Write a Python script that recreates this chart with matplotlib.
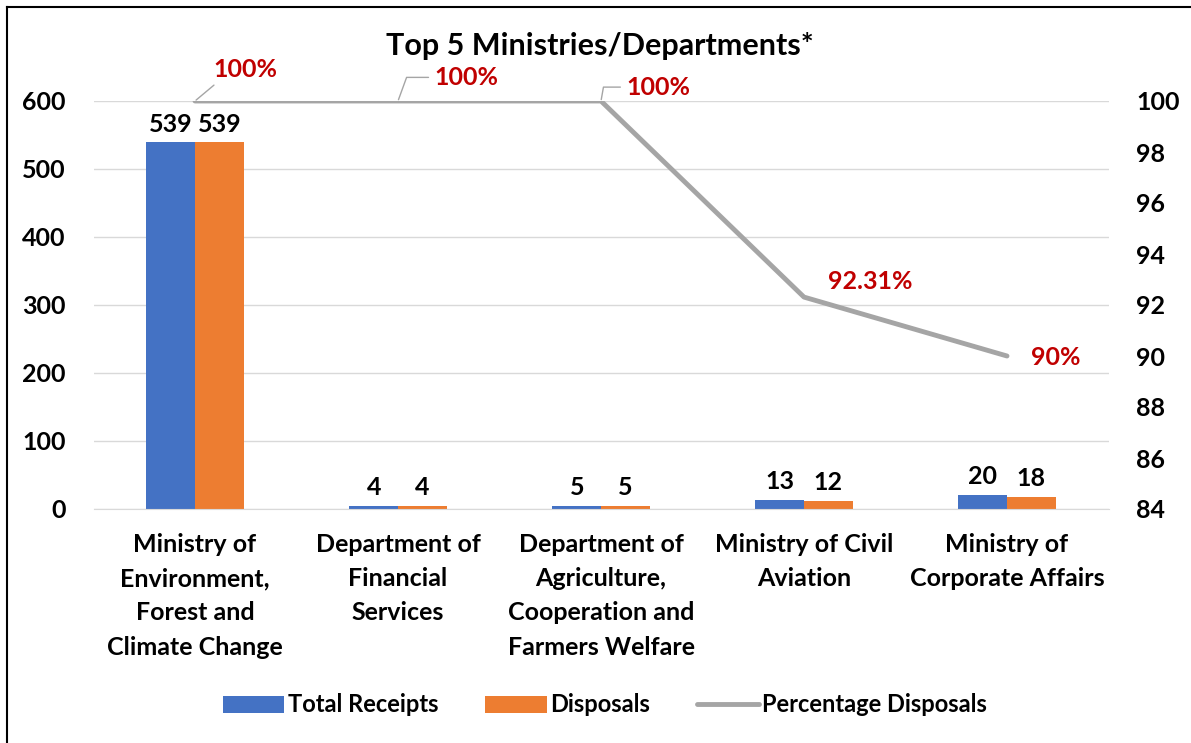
import matplotlib
matplotlib.use('Agg')
import numpy as np
from matplotlib import pyplot as plt
from matplotlib.lines import Line2D

plt.rcParams['font.family'] = ['Lato', 'DejaVu Sans']
plt.rcParams['font.weight'] = 'bold'

categories = ['Ministry of\nEnvironment,\nForest and\nClimate Change',
              'Department of\nFinancial\nServices',
              'Department of\nAgriculture,\nCooperation and\nFarmers Welfare',
              'Ministry of Civil\nAviation',
              'Ministry of\nCorporate Affairs']
receipts = [539, 4, 5, 13, 20]
disposals = [539, 4, 5, 12, 18]
pct = [100, 100, 100, 92.31, 90]
pct_labels = ['100%', '100%', '100%', '92.31%', '90%']

blue = '#4472C4'
orange = '#ED7D31'
gray = '#A5A5A5'
red = '#C00000'
fs = 18

fig = plt.figure(figsize=(11.91, 7.43), dpi=100)
ax = fig.add_axes([93.5 / 1191, 1 - 509 / 743, 1015 / 1191, 408 / 743])
ax2 = ax.twinx()

x = np.arange(len(categories))
w = 0.239
b1 = ax.bar(x - w / 2, receipts, w, color=blue, label='Total Receipts', zorder=2)
b2 = ax.bar(x + w / 2, disposals, w, color=orange, label='Disposals', zorder=2)
ax.bar_label(b1, padding=5, fontsize=fs, fontweight='bold')
ax.bar_label(b2, padding=5, fontsize=fs, fontweight='bold')

ax.set_xlim(-0.5, 4.5)
ax.set_ylim(0, 600)
ax.set_yticks(range(0, 601, 100))
ax.grid(axis='y', color='#D9D9D9', lw=1, zorder=0)
ax.set_axisbelow(True)
ax.set_xticks(x)
ax.set_xticklabels(categories, fontsize=fs, fontweight='bold', linespacing=1.6)
ax.tick_params(axis='x', length=0, pad=17)
ax.tick_params(axis='y', length=0, labelsize=fs, pad=20)
for s in ['top', 'right', 'left']:
    ax.spines[s].set_visible(False)
    ax2.spines[s].set_visible(False)
ax.spines['bottom'].set_color('#D9D9D9')
ax2.spines['bottom'].set_visible(False)

ax2.plot(x, pct, color=gray, lw=3.5, solid_capstyle='round', zorder=3)
ax2.set_ylim(84, 100)
ax2.set_yticks(range(84, 101, 2))
ax2.tick_params(axis='y', length=0, labelsize=fs, pad=20)
for t in ax.get_yticklabels() + ax2.get_yticklabels():
    t.set_fontweight('bold')

offsets = [(36, 23), (49, 17), (41, 10), (48, 11), (35, -1)]
conns = ['arc3', 'angle,angleA=0,angleB=70,rad=0',
         'angle,angleA=0,angleB=80,rad=0', None, None]
for i in range(len(pct)):
    kw = dict(textcoords='offset points', xytext=offsets[i], ha='center', va='center',
              color=red, fontsize=fs, fontweight='bold')
    if conns[i] is not None:
        rp = (0.1, 0.0) if i == 0 else (0.0, 0.5)
        kw['arrowprops'] = dict(arrowstyle='-', color=gray, lw=1, relpos=rp,
                                connectionstyle=conns[i], shrinkA=2, shrinkB=1)
    ax2.annotate(pct_labels[i], (x[i], pct[i]), **kw)

fig.text(600 / 1191, 1 - 46 / 743, 'Top 5 Ministries/Departments*', ha='center', va='center',
         fontsize=22, fontweight='bold')

handles = [b1, b2, Line2D([], [], color=gray, lw=3.5, solid_capstyle='round')]
fig.legend(handles, ['Total Receipts', 'Disposals', 'Percentage Disposals'],
           loc='center', bbox_to_anchor=(605 / 1191, 1 - 705 / 743), ncol=3, frameon=False,
           prop={'size': 17, 'weight': 'bold'}, handlelength=2.6, handleheight=0.7,
           columnspacing=2.0, handletextpad=0.15)

fig.add_artist(Line2D([7 / 1191, 7 / 1191], [0, 1 - 7 / 743], color='black', lw=1.5))
fig.add_artist(Line2D([7 / 1191, 1], [1 - 7 / 743, 1 - 7 / 743], color='black', lw=1.5))

fig.savefig('out.png', dpi=100)
